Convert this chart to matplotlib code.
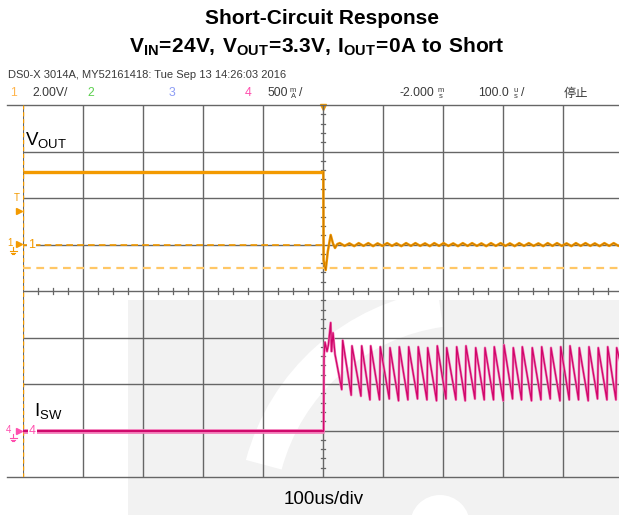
import matplotlib
matplotlib.use('Agg')
import matplotlib.pyplot as plt
from matplotlib import font_manager
from matplotlib.patches import Rectangle, Wedge

W, H = 619, 515

# ---- data read off the scope shot ----
# channel 4 (I_SW), amps, 500 mA/div, ground at -3 div
isw_pre_t = [-500.0, 1.0]
isw_pre_i = [0.0, 0.0]
isw_start_t = [1.7, 3.3, 6.7, 9.0, 12.8, 14.2, 16.7, 20.0]
isw_start_i = [0.80, 0.95, 0.85, 0.92, 1.16, 0.85, 1.05, 0.82]
t_trough = [31.2, 47.0, 63.2, 78.2, 94.2, 110.4, 125.9, 141.5, 157.5, 173.2,
            189.2, 204.9, 221.5, 237.0, 253.2, 268.7, 284.2, 300.4, 315.9, 330.9,
            347.5, 363.2, 378.7, 394.9, 410.4, 425.9, 442.0, 457.5, 473.2, 488.2]
i_trough = [0.44, 0.38, 0.37, 0.33, 0.33, 0.34, 0.32, 0.33, 0.34, 0.33,
            0.32, 0.34, 0.33, 0.32, 0.34, 0.33, 0.33, 0.32, 0.34, 0.33,
            0.32, 0.33, 0.34, 0.32, 0.33, 0.33, 0.32, 0.34, 0.33, 0.33]
t_peak = [32.8, 48.3, 64.5, 79.5, 95.5, 111.7, 127.2, 142.8, 158.8, 174.5,
          190.5, 206.2, 222.8, 238.3, 254.5, 270.0, 285.5, 301.7, 317.2, 332.2,
          348.8, 364.5, 380.0, 396.2, 411.7, 427.2, 443.3, 458.8, 474.5, 489.5]
i_peak = [0.97, 0.91, 0.91, 0.91, 0.90, 0.89, 0.90, 0.90, 0.90, 0.89,
          0.91, 0.89, 0.90, 0.91, 0.89, 0.89, 0.90, 0.92, 0.89, 0.90,
          0.89, 0.90, 0.89, 0.90, 0.91, 0.89, 0.90, 0.89, 0.90, 0.89]
isw_end_t = [500.0]
isw_end_i = [0.62]

# channel 1 (V_OUT), volts, 2 V/div, ground at +1 div
vout_pre_t = [-500.0, 0.5]
vout_pre_v = [3.12, 3.12]
vout_fall_t = [1.0, 4.5, 8.0, 12.8, 16.5, 20.0, 24.0]
vout_fall_v = [-0.68, -1.10, -0.30, 0.41, 0.05, -0.15, 0.02]
ripple_t = [28.0, 36.0, 44.0, 52.0, 59.5, 67.5, 75.5, 83.5, 91.0, 99.0,
            107.0, 115.0, 122.5, 130.5, 138.5, 146.5, 154.0, 162.0, 170.0, 178.0,
            185.5, 193.5, 201.0, 209.0, 217.0, 225.0, 233.0, 241.0, 248.5, 256.5,
            264.0, 272.0, 280.0, 288.0, 296.0, 304.0, 311.5, 319.5, 327.0, 335.0,
            343.0, 351.0, 359.0, 367.0, 374.5, 382.5, 390.0, 398.0, 406.0, 414.0,
            421.5, 429.5, 437.5, 445.5, 453.0, 461.0, 469.0, 477.0, 484.5, 492.5, 500.0]
ripple_v = [0.06, -0.06, 0.05, -0.07, 0.06, -0.06, 0.06, -0.07, 0.05, -0.06,
            0.06, -0.06, 0.05, -0.07, 0.06, -0.06, 0.06, -0.06, 0.05, -0.07,
            0.06, -0.06, 0.06, -0.06, 0.05, -0.07, 0.06, -0.06, 0.06, -0.06,
            0.05, -0.07, 0.06, -0.06, 0.06, -0.06, 0.05, -0.07, 0.06, -0.06,
            0.06, -0.06, 0.05, -0.07, 0.06, -0.06, 0.06, -0.06, 0.05, -0.07,
            0.06, -0.06, 0.06, -0.06, 0.05, -0.07, 0.06, -0.06, 0.06, -0.06, 0.05]
trig_level_v = -1.01

CH1_SCALE, CH1_GND = 2.0, 1.0
CH4_SCALE, CH4_GND = 0.5, -3.0

names = {f.name for f in font_manager.fontManager.ttflist}
NARROW = 'Liberation Sans Narrow' if 'Liberation Sans Narrow' in names else 'Liberation Sans'
plt.rcParams['font.family'] = ['Liberation Sans', 'Noto Sans CJK SC', 'DejaVu Sans']
plt.rcParams['mathtext.fontset'] = 'custom'
plt.rcParams['mathtext.bf'] = NARROW + ':bold'
plt.rcParams['mathtext.rm'] = NARROW
plt.rcParams['mathtext.sf'] = 'Liberation Sans'

ORANGE = '#f39a00'
PINK = '#d0066a'
PINK_LT = '#f27ab8'
GRID = '#666666'
TXT = '#3a3a3a'

fig = plt.figure(figsize=(W / 100, H / 100), dpi=100)

# background layer in pixel coordinates (watermark, titles, header)
bg = fig.add_axes([0, 0, 1, 1], zorder=0)
bg.set_xlim(0, W)
bg.set_ylim(H, 0)
bg.axis('off')
bg.add_patch(Rectangle((128, 300), W - 128, H - 300, color='#f2f2f2', lw=0))
bg.add_patch(Wedge((470, 520), 232, 195, 262, width=37, color='white', lw=0))
bg.add_patch(Wedge((440, 525), 30, 180, 360, color='white', lw=0))

bg.text(322, 19, 'Short-Circuit Response', ha='center', va='center',
        fontsize=15, weight='bold', family=NARROW)
bg.text(317, 47,
        r'$\mathbf{V_{IN}\!=\!24V,\,V_{OUT}\!=\!3.3V,\,I_{OUT}\!=\!0A\ to\ Short}$',
        ha='center', va='center', fontsize=15)

bg.text(8, 75, 'DS0-X 3014A, MY52161418: Tue Sep 13 14:26:03 2016',
        ha='left', va='center', fontsize=8, color=TXT)
row = 93
bg.text(10, row, '1', color='#ffb54d', fontsize=8.8, va='center')
bg.text(32, row, '2.00V/', color=TXT, fontsize=8.8, va='center')
bg.text(87, row, '2', color='#5ccf4f', fontsize=8.8, va='center')
bg.text(169, row, '3', color='#8c9cf5', fontsize=8.8, va='center')
bg.text(245, row, '4', color='#ff4fae', fontsize=8.8, va='center')
bg.text(268, row, '500', color=TXT, fontsize=8.8, va='center')
bg.text(290, row - 3, 'm', color=TXT, fontsize=5.5, va='center')
bg.text(291, row + 3, 'A', color=TXT, fontsize=5.5, va='center')
bg.text(299, row, '/', color=TXT, fontsize=8.8, va='center')
bg.text(399, row, '-2.000', color=TXT, fontsize=8.8, va='center')
bg.text(438, row - 3, 'm', color=TXT, fontsize=5.5, va='center')
bg.text(439, row + 3, 's', color=TXT, fontsize=5.5, va='center')
bg.text(478, row, '100.0', color=TXT, fontsize=8.8, va='center')
bg.text(513, row - 3, 'u', color=TXT, fontsize=5.5, va='center')
bg.text(514, row + 3, 's', color=TXT, fontsize=5.5, va='center')
bg.text(521, row, '/', color=TXT, fontsize=8.8, va='center')
bg.text(564, row, '停止', color=TXT, fontsize=8.8, va='center',
        family=['Noto Sans CJK SC', 'DejaVu Sans'])

bg.text(324, 500, '100us/div', ha='center', va='center', fontsize=13.5, color='black')


def ground_mark(ax, x, y, color):
    ax.plot([x, x], [y - 4, y], color=color, lw=0.8)
    for k, half in enumerate([3.5, 2.3, 1.1]):
        ax.plot([x - half, x + half], [y + 1.6 * k, y + 1.6 * k], color=color, lw=0.8)


# channel / trigger markers left of the grid
bg.text(17, 198, 'T', color=ORANGE, fontsize=7, ha='center', va='center')
bg.plot([19], [211], marker='>', color=ORANGE, ms=4.5)
bg.text(10, 243, '1', color=ORANGE, fontsize=7, ha='center', va='center')
bg.plot([19], [244], marker='>', color=ORANGE, ms=4.5)
ground_mark(bg, 13, 251, ORANGE)
bg.text(8, 430, '4', color='#ff4fae', fontsize=7, ha='center', va='center')
bg.plot([19], [431], marker='>', color='#ff4fae', ms=4.5)
ground_mark(bg, 13, 438, '#ff4fae')
bg.plot([323], [107], marker='v', color=ORANGE, ms=5)

# ---- scope grid ----
sc = fig.add_axes([23 / W, (H - 477) / H, 600 / W, 372 / H], zorder=1)
sc.set_facecolor('none')
sc.set_xlim(-500, 500)
sc.set_ylim(-4, 4)
sc.axis('off')

for t in range(-400, 501, 100):
    sc.axvline(t, color=GRID, lw=1.0, zorder=1)
sc.axvline(-500, color=GRID, lw=0.8, zorder=1)
sc.axvline(-500, color=ORANGE, lw=1.0, ls=(0, (3, 2)), zorder=2)
for d in range(-3, 4):
    sc.axhline(d, color=GRID, lw=1.0, zorder=1)
for d in (-4, 4):
    sc.plot([-526.7, 500], [d, d], color=GRID, lw=1.0, clip_on=False, zorder=1)

for k in range(-20, 21):
    tt = k * 25
    if tt % 100:
        sc.plot([tt, tt], [-0.055, 0.055], color=GRID, lw=0.9, zorder=1)
for k in range(-20, 21):
    dv = k * 0.2
    if k % 5:
        sc.plot([-2.6, 2.6], [dv, dv], color=GRID, lw=0.9, zorder=1)

# trigger level (light dashed)
sc.axhline(CH1_GND + trig_level_v / CH1_SCALE, color='#ffc766', lw=1.6,
           ls=(0, (3.5, 2.5)), zorder=2)
# channel 1 reference before the event
sc.plot([-500, 0], [CH1_GND, CH1_GND], color=ORANGE, lw=1.2, ls=(0, (4, 2.5)), zorder=2)

# ---- traces ----
v_t = vout_pre_t + vout_fall_t + ripple_t
v_v = vout_pre_v + vout_fall_v + ripple_v
v_div = [CH1_GND + v / CH1_SCALE for v in v_v]
sc.plot(v_t[:2], v_div[:2], color=ORANGE, lw=2.4, zorder=4, solid_capstyle='butt')
sc.plot(v_t[1:], v_div[1:], color=ORANGE, lw=1.8, zorder=4)
sc.plot(v_t[1:], v_div[1:], color='#a85c00', lw=0.5, alpha=0.7, zorder=5)

i_t = list(isw_pre_t) + isw_start_t
i_v = list(isw_pre_i) + isw_start_i
for tt, it, tp, ip in zip(t_trough, i_trough, t_peak, i_peak):
    i_t += [tt, tp]
    i_v += [it, ip]
i_t += isw_end_t
i_v += isw_end_i
i_div = [CH4_GND + i / CH4_SCALE for i in i_v]
sc.plot(i_t[:2], i_div[:2], color=PINK_LT, lw=3.4, zorder=4, solid_capstyle='butt')
sc.plot(i_t[:2], i_div[:2], color=PINK, lw=1.4, zorder=5, solid_capstyle='butt')
sc.plot(i_t[1:], i_div[1:], color=PINK_LT, lw=1.8, zorder=4)
sc.plot(i_t[1:], i_div[1:], color=PINK, lw=0.9, zorder=5)

# channel labels inside the grid
box = dict(facecolor='white', edgecolor='none', pad=0.6)
sc.text(-492, CH1_GND, '1', color=ORANGE, fontsize=9, ha='left', va='center',
        bbox=box, zorder=6)
sc.text(-490, CH4_GND, '4', color='#ff4fae', fontsize=9, ha='left', va='center',
        bbox=box, zorder=6)
sc.text(-497, 3.25, r'$\mathsf{V_{OUT}}$', color='black', fontsize=13.5,
        ha='left', va='center', zorder=6)
sc.text(-481, -2.58, r'$\mathsf{I_{SW}}$', color='black', fontsize=13.5,
        ha='left', va='center', zorder=6)

fig.savefig('out.png', dpi=100)
